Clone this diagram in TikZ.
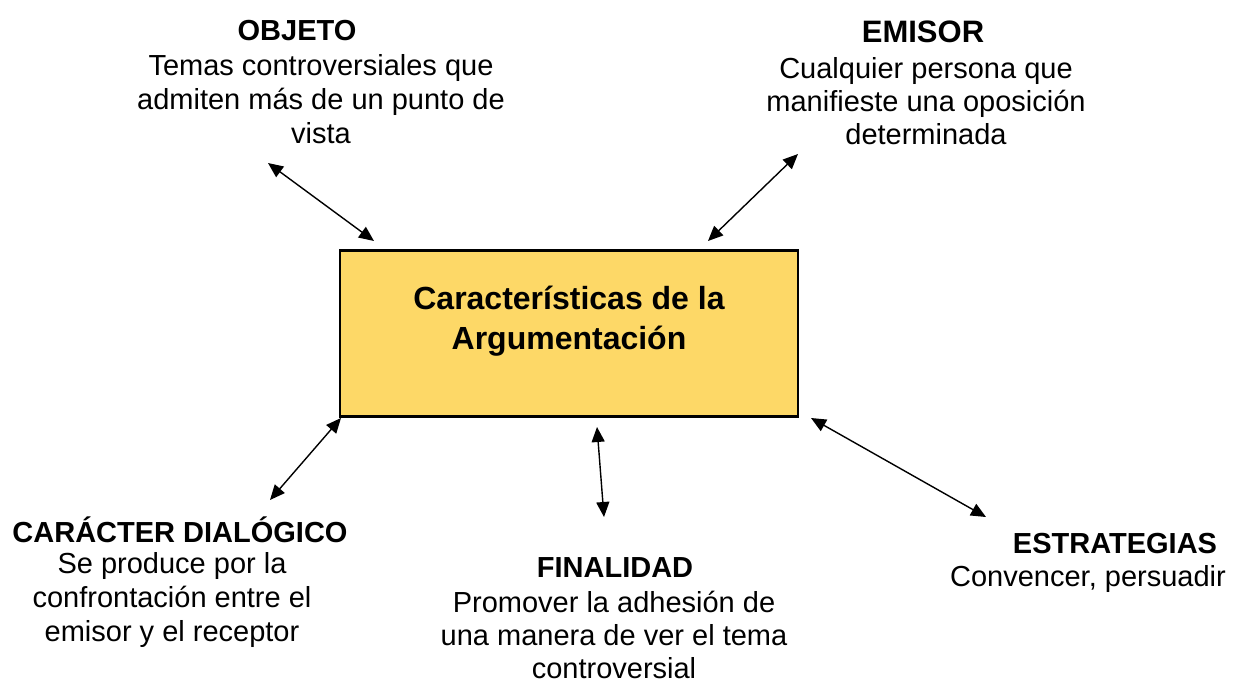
\documentclass[tikz,border=0pt]{standalone}
\usepackage{fontspec}
\setmainfont{Liberation Sans}
\usetikzlibrary{arrows.meta}
\definecolor{boxfill}{HTML}{FDD867}
\tikzset{
  title/.style={font=\fontsize{29}{34}\selectfont\bfseries, inner sep=0pt, align=center},
  body/.style={font=\fontsize{29}{33}\selectfont, inner sep=0pt, align=center},
  conn/.style={line width=1.4pt, {Triangle[length=15pt,width=13pt]}-{Triangle[length=15pt,width=13pt]}},
  mainbox/.style={draw, line width=2.6pt, fill=boxfill, minimum width=458pt, minimum height=166pt, inner sep=0pt, align=center, font=\fontsize{32}{40}\selectfont\bfseries}
}
\begin{document}
\begin{tikzpicture}[x=1pt,y=-1pt]
\useasboundingbox (0,0) rectangle (1234,681);
\node[mainbox] (main) at (569,333.5) {Características de la\\Argumentación\\[-8pt]\phantom{x}};
% titles and bodies
\node[title] (objt) at (297,31) {OBJETO};
\node[body, font=\fontsize{29}{34}\selectfont] (objb) at (321,99) {Temas controversiales que\\admiten más de un punto de\\vista};
\node[title, font=\fontsize{31}{36}\selectfont\bfseries] (emit) at (923,32) {EMISOR};
\node[body] (emib) at (926,101) {Cualquier persona que\\manifieste una oposición\\determinada};
\node[title] (cart) at (180,530) {CARÁCTER DIALÓGICO};
\node[body, font=\fontsize{29}{34}\selectfont] (carb) at (172,600) {Se produce por la\\confrontación entre el\\emisor y el receptor};
\node[title] (fint) at (615,568) {FINALIDAD};
\node[body] (finb) at (614,635) {Promover la adhesión de\\una manera de ver el tema\\controversial};
\node[title] (estt) at (1115,544) {ESTRATEGIAS};
\node[body] (estb) at (1088,579) {Convencer, persuadir};
% connector end points
\coordinate (o1) at (268,163); \coordinate (o2) at (374,241);
\coordinate (e1) at (798,154); \coordinate (e2) at (708,241);
\coordinate (c1) at (341,418); \coordinate (c2) at (270,500);
\coordinate (f1) at (597,427); \coordinate (f2) at (604,517);
\coordinate (s1) at (811,418); \coordinate (s2) at (986,517);
\draw[conn] (o1) -- (o2);
\draw[conn] (e1) -- (e2);
\draw[conn] (c1) -- (c2);
\draw[conn] (f1) -- (f2);
\draw[conn] (s1) -- (s2);
\end{tikzpicture}
\end{document}
